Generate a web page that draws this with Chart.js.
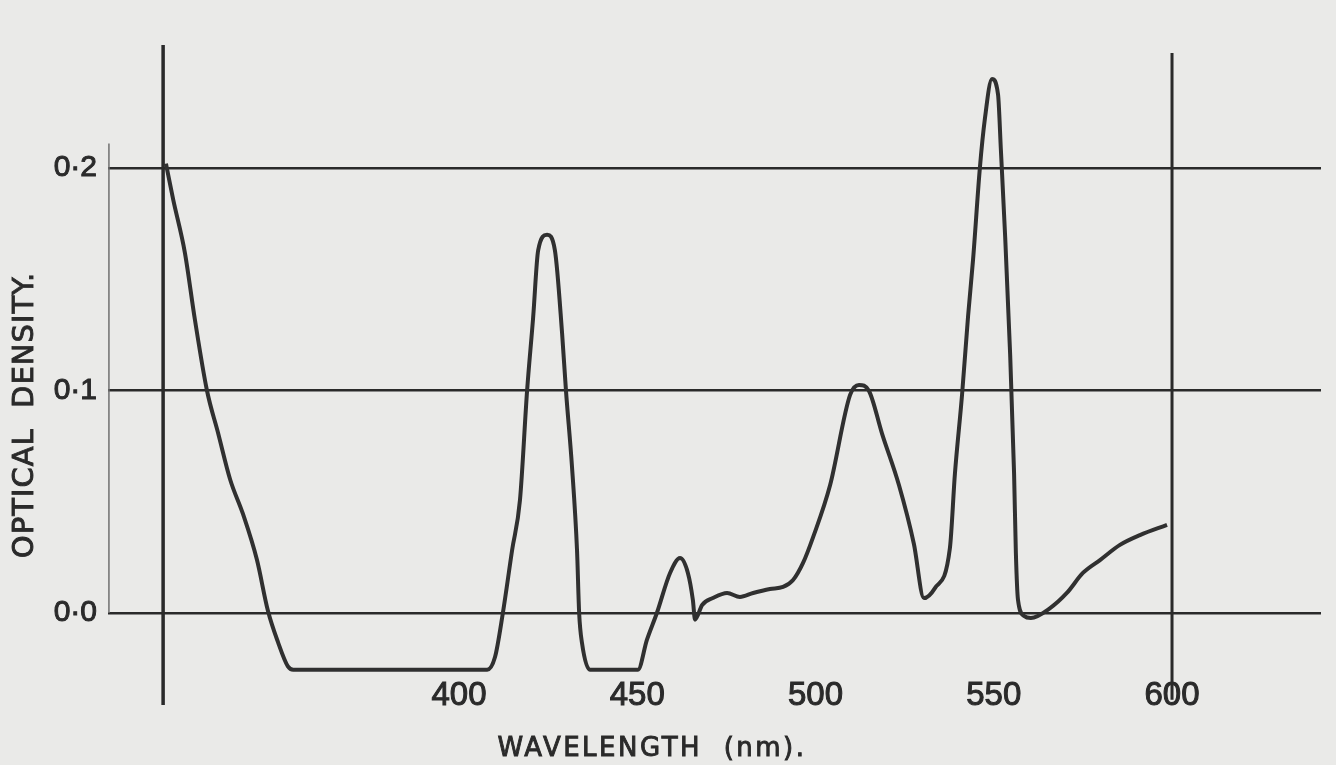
<!DOCTYPE html>
<html>
<head>
<meta charset="utf-8">
<title>Optical density spectrum</title>
<script src="https://cdn.jsdelivr.net/npm/chart.js@4.4.1/dist/chart.umd.min.js"></script>
<style>
  html, body { margin: 0; padding: 0; background: #eaeae8; }
  #wrap { width: 1336px; height: 765px; }
</style>
</head>
<body>
<div id="wrap"><canvas id="spectrum" width="1336" height="765"></canvas></div>
<script>
// wavelength (nm) and optical density along the trace
const wavelengths = [
  317.8, 319.8, 323.1, 325.9, 329.3, 332.4, 335.8, 339.4, 343.3, 346.4,
  349.2, 352.0, 353.5, 407.9, 410.1, 412.3, 414.9, 417.1, 419.1, 420.8,
  422.2, 424.7, 426.9, 428.9, 430.0, 431.7, 433.1, 433.7, 434.5, 436.7,
  450.2, 452.7, 455.5, 459.2, 462.0, 464.2, 465.6, 466.2, 468.2, 471.2,
  475.2, 478.8, 482.5, 487.2, 490.9, 493.7, 496.5, 499.3, 504.1, 509.7,
  512.2, 515.0, 518.7, 523.4, 527.6, 530.4, 533.5, 537.7, 539.1, 541.1,
  542.8, 544.2, 546.1, 547.5, 549.5, 551.2, 552.0, 553.2, 554.6, 555.7,
  556.2, 556.8, 558.5, 560.4, 565.8, 570.5, 575.0, 579.8, 585.4, 591.0,
  598.6
];
const density = [
  0.202, 0.186, 0.162, 0.132, 0.100, 0.081, 0.060, 0.0445, 0.024, 0.001,
  -0.013, -0.024, -0.0255, -0.0255, -0.0198, 0.000, 0.0283, 0.0508, 0.100, 0.133,
  0.163, 0.170, 0.163, 0.126, 0.100, 0.0656, 0.0283, 0.000, -0.0135, -0.0255,
  -0.0255, -0.0121, 0.000, 0.018, 0.0247, 0.018, 0.0058, -0.003, 0.0036, 0.0067,
  0.009, 0.0072, 0.009, 0.0108, 0.0117, 0.0148, 0.0225, 0.034, 0.0575, 0.098,
  0.1025, 0.0998, 0.0804, 0.0575, 0.031, 0.0067, 0.0112, 0.0292, 0.0625, 0.098,
  0.1335, 0.159, 0.200, 0.222, 0.240, 0.233, 0.208, 0.169, 0.116, 0.0625,
  0.027, 0.0058, -0.0013, -0.0022, 0.0022, 0.009, 0.018, 0.0238, 0.0306, 0.035,
  0.0396
];

const xTicks = [400, 450, 500, 550, 600];
const yTicks = [0, 0.1, 0.2];

// ruled verticals: start of the scan, the 600 nm end, and the short frame edge
const startRule = 317;
const endRule = 600;
const frameEdge = 301.8;

const ink = '#2a2a2a';

function rule(x, top, bottom) {
  return [{ x: x, y: top }, { x: x, y: bottom }];
}

// keep the plot box fixed: no extra room for half-labels at the ends
function fixBox(size) {
  return axis => {
    if (axis.isHorizontal()) axis.height = size; else axis.width = size;
    axis.paddingTop = 0;
    axis.paddingBottom = 0;
    axis.paddingLeft = 0;
    axis.paddingRight = 0;
  };
}

// axis titles are lettered by hand, so they are placed directly
const axisTitles = {
  id: 'axisTitles',
  afterDraw(chart) {
    const ctx = chart.ctx;
    ctx.save();
    ctx.fillStyle = ink;
    ctx.strokeStyle = ink;
    ctx.lineWidth = 0.9;
    ctx.textAlign = 'center';
    ctx.textBaseline = 'alphabetic';

    ctx.font = '26px "DejaVu Sans", sans-serif';
    ctx.letterSpacing = '2.5px';
    ctx.fillText('WAVELENGTH  (nm).', 652, 756);
    ctx.strokeText('WAVELENGTH  (nm).', 652, 756);

    ctx.font = '29px "DejaVu Sans", sans-serif';
    ctx.letterSpacing = '1px';
    ctx.translate(33, 415);
    ctx.rotate(-Math.PI / 2);
    ctx.fillText('OPTICAL  DENSITY.', 0, 0);
    ctx.strokeText('OPTICAL  DENSITY.', 0, 0);
    ctx.restore();
  }
};

new Chart(document.getElementById('spectrum'), {
  type: 'line',
  data: {
    datasets: [
      {
        data: wavelengths.map((w, i) => ({ x: w, y: density[i] })),
        borderColor: '#303030',
        borderWidth: 4,
        pointRadius: 0,
        cubicInterpolationMode: 'monotone',
        fill: false
      },
      {
        data: rule(startRule, 0.2553, -0.0413),
        borderColor: ink,
        borderWidth: 3.5,
        pointRadius: 0,
        clip: false
      },
      {
        data: rule(endRule, 0.2517, -0.039),
        borderColor: ink,
        borderWidth: 3,
        pointRadius: 0,
        clip: false
      },
      {
        data: rule(frameEdge, 0.211, 0),
        borderColor: '#707070',
        borderWidth: 1.5,
        pointRadius: 0,
        clip: false
      }
    ]
  },
  options: {
    responsive: false,
    animation: false,
    events: [],
    layout: { padding: { top: 0, right: 15, bottom: 0, left: 0 } },
    plugins: {
      legend: { display: false },
      tooltip: { enabled: false }
    },
    scales: {
      x: {
        type: 'linear',
        min: 301.54,
        max: 641.79,
        afterBuildTicks: axis => { axis.ticks = xTicks.map(v => ({ value: v })); },
        afterFit: fixBox(90),
        grid: { display: false, drawTicks: false },
        border: { display: false },
        ticks: {
          color: ink,
          padding: 1,
          maxRotation: 0,
          autoSkip: false,
          textStrokeColor: ink,
          textStrokeWidth: 1,
          font: { family: '"Liberation Sans", sans-serif', size: 33 }
        }
      },
      y: {
        type: 'linear',
        min: -0.02787,
        max: 0.27551,
        afterBuildTicks: axis => { axis.ticks = yTicks.map(v => ({ value: v })); },
        afterFit: fixBox(108),
        grid: { color: ink, lineWidth: 2.5, drawTicks: false },
        border: { display: false },
        ticks: {
          color: ink,
          padding: 11,
          textStrokeColor: ink,
          textStrokeWidth: 1,
          font: { family: '"Liberation Sans", sans-serif', size: 30 },
          callback: v => v.toFixed(1).replace('.', '\u00b7')
        }
      }
    }
  },
  plugins: [axisTitles]
});
</script>
</body>
</html>
